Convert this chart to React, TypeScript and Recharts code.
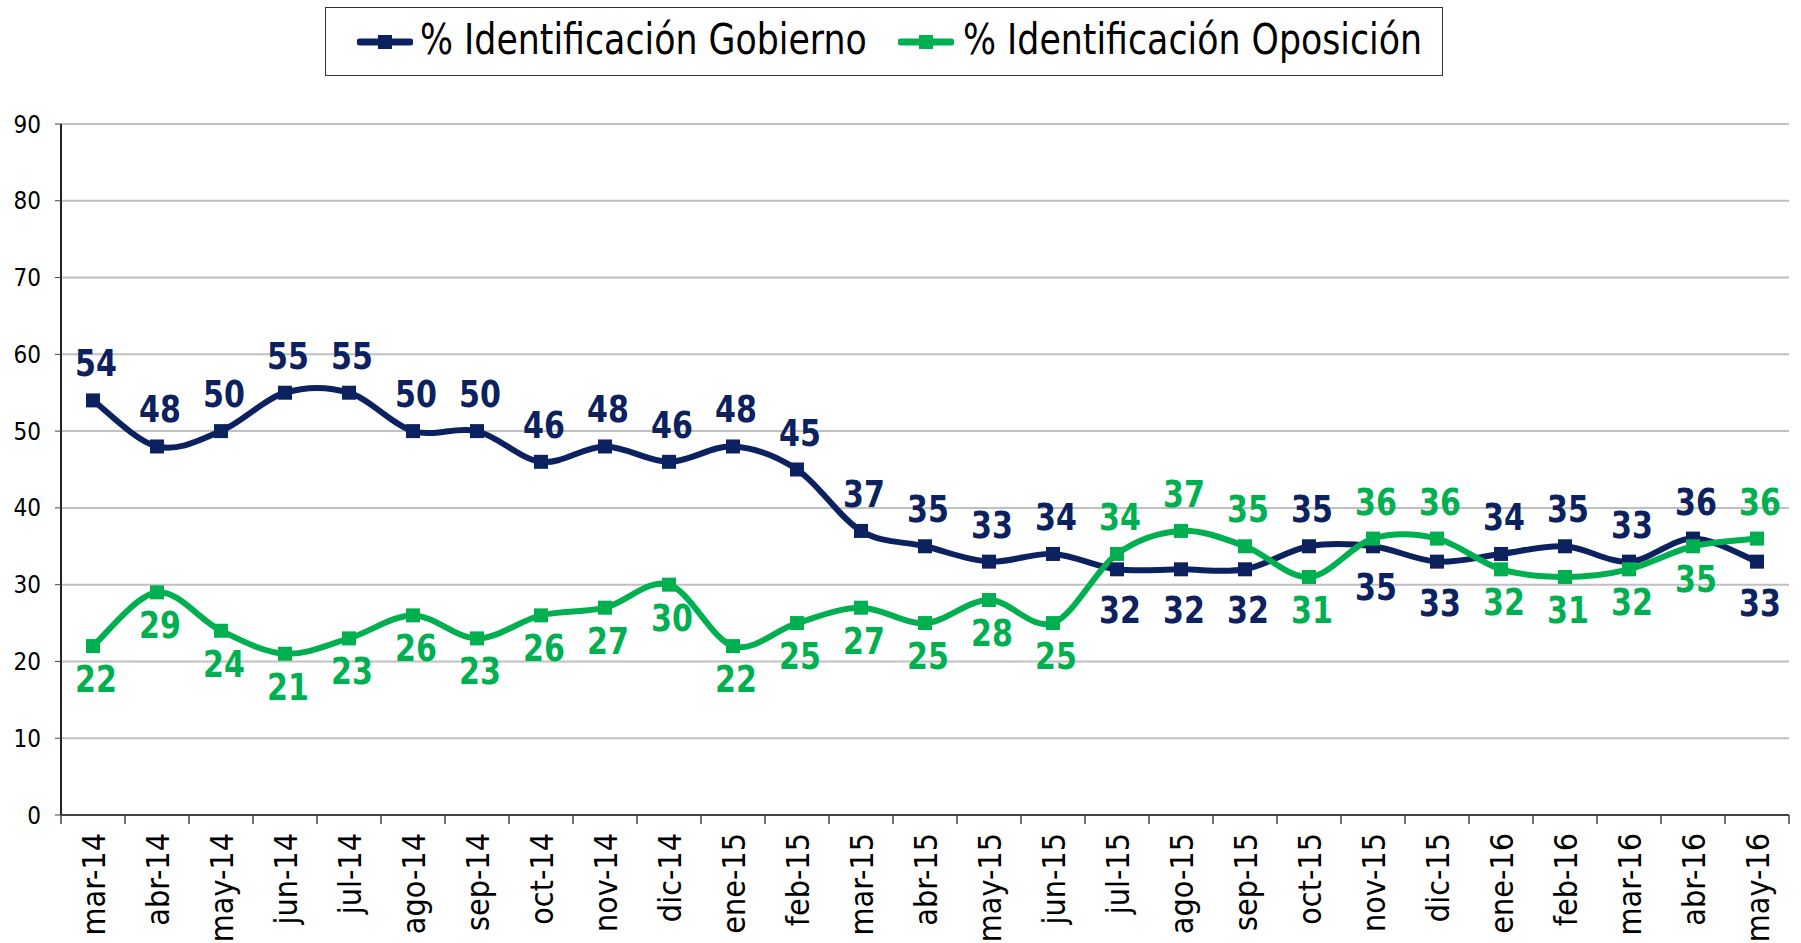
import { LineChart, Line, XAxis, YAxis, CartesianGrid, LabelList } from "recharts";

const months = [
  "mar-14", "abr-14", "may-14", "jun-14", "jul-14", "ago-14", "sep-14", "oct-14", "nov-14",
  "dic-14", "ene-15", "feb-15", "mar-15", "abr-15", "may-15", "jun-15", "jul-15", "ago-15",
  "sep-15", "oct-15", "nov-15", "dic-15", "ene-16", "feb-16", "mar-16", "abr-16", "may-16",
];
const gobierno = [54, 48, 50, 55, 55, 50, 50, 46, 48, 46, 48, 45, 37, 35, 33, 34, 32, 32, 32, 35, 35, 33, 34, 35, 33, 36, 33];
const oposicion = [22, 29, 24, 21, 23, 26, 23, 26, 27, 30, 22, 25, 27, 25, 28, 25, 34, 37, 35, 31, 36, 36, 32, 31, 32, 35, 36];
const yTicks = [0, 10, 20, 30, 40, 50, 60, 70, 80, 90];

const NAVY = "#0c2160";
const GREEN = "#00b050";
const FONT = "'DejaVu Sans Condensed', 'DejaVu Sans', sans-serif";

const data = months.map((m, i) => ({ month: m, gob: gobierno[i], opo: oposicion[i] }));

// excel-style smoothed line (catmull-rom through every point)
function excelSmooth(context: any) {
  let pts: number[][] = [];
  return {
    areaStart() {},
    areaEnd() {},
    lineStart() {
      pts = [];
    },
    point(x: number, y: number) {
      pts.push([+x, +y]);
    },
    lineEnd() {
      const n = pts.length;
      if (!n) return;
      context.moveTo(pts[0][0], pts[0][1]);
      for (let i = 0; i < n - 1; i++) {
        const p0 = pts[Math.max(i - 1, 0)];
        const p1 = pts[i];
        const p2 = pts[i + 1];
        const p3 = pts[Math.min(i + 2, n - 1)];
        context.bezierCurveTo(
          p1[0] + (p2[0] - p0[0]) / 6,
          p1[1] + (p2[1] - p0[1]) / 6,
          p2[0] - (p3[0] - p1[0]) / 6,
          p2[1] - (p3[1] - p1[1]) / 6,
          p2[0],
          p2[1]
        );
      }
    },
  };
}

const Square = (color: string) => (props: any) => {
  const { cx, cy } = props;
  if (cx == null || cy == null) return null;
  return <rect x={cx - 7} y={cy - 7} width={14} height={14} fill={color} />;
};

const makeLabel = (color: string, mine: number[], other: number[], belowGap: number) => (props: any) => {
  const { x, y, value, index } = props;
  const above = mine[index] >= other[index];
  return (
    <text
      transform={`translate(${x + 3},${above ? y - 24 : y + belowGap}) scale(0.88,1)`}
      textAnchor="middle"
      fill={color}
      fontFamily={FONT}
      fontWeight="bold"
      fontSize={38}
    >
      {value}
    </text>
  );
};

const MonthTick = (props: any) => {
  const { x, y, payload, index } = props;
  const half = payload && payload.offset ? payload.offset : 32;
  return (
    <g>
      <line x1={x - half} y1={y} x2={x - half} y2={y + 9} stroke="#444" strokeWidth={1.5} />
      {index === months.length - 1 && (
        <line x1={x + half} y1={y} x2={x + half} y2={y + 9} stroke="#444" strokeWidth={1.5} />
      )}
      <text
        transform={`translate(${x},${y + 18}) rotate(-90)`}
        textAnchor="end"
        dy="0.36em"
        fill="#000"
        fontFamily={FONT}
        fontSize={32}
      >
        {payload.value}
      </text>
    </g>
  );
};

const LegendIcon = ({ color }: { color: string }) => (
  <svg width={56} height={20} style={{ display: "block" }}>
    <line x1={3} y1={10} x2={53} y2={10} stroke={color} strokeWidth={7} strokeLinecap="round" />
    <rect x={21} y={3} width={14} height={14} fill={color} />
  </svg>
);

const legendText = {
  position: "absolute" as const,
  top: 6,
  lineHeight: "52px",
  whiteSpace: "nowrap" as const,
  transform: "scaleX(0.92)",
  transformOrigin: "left center",
};

export default function App() {
  return (
    <div style={{ position: "absolute", left: 8, top: 8, width: 1783, height: 935 }}>
      <div
        style={{
          position: "absolute",
          left: 317,
          top: -1,
          width: 1118,
          height: 69,
          border: "1px solid #333",
          boxSizing: "border-box",
          background: "#fff",
          fontFamily: FONT,
          fontSize: 42,
          color: "#000",
          zIndex: 2,
        }}
      >
        <div style={{ position: "absolute", left: 31, top: 24 }}>
          <LegendIcon color={NAVY} />
        </div>
        <div style={{ ...legendText, left: 94 }}>% Identificación Gobierno</div>
        <div style={{ position: "absolute", left: 572, top: 24 }}>
          <LegendIcon color={GREEN} />
        </div>
        <div style={{ ...legendText, left: 637 }}>% Identificación Oposición</div>
      </div>
      <LineChart width={1783} height={935} data={data} margin={{ top: 116, right: 2, bottom: 0, left: 8 }}>
        <CartesianGrid horizontal vertical={false} stroke="#c0c0c0" strokeWidth={2} />
        <XAxis
          dataKey="month"
          scale="band"
          interval={0}
          height={128}
          tickSize={0}
          tickMargin={0}
          tickLine={false}
          axisLine={{ stroke: "#444", strokeWidth: 2 }}
          tick={<MonthTick />}
        />
        <YAxis
          domain={[0, 90]}
          ticks={yTicks}
          interval={0}
          width={45}
          tickSize={6}
          tickMargin={14}
          axisLine={{ stroke: "#222", strokeWidth: 2 }}
          tickLine={{ stroke: "#444" }}
          tick={{ fill: "#000", fontFamily: FONT, fontSize: 24 }}
        />
        <YAxis
          yAxisId="edge"
          orientation="right"
          domain={[0, 90]}
          width={0}
          tick={false}
          tickLine={false}
          axisLine={{ stroke: "#c0c0c0", strokeWidth: 2 }}
        />
        <Line
          dataKey="gob"
          type={excelSmooth as any}
          stroke={NAVY}
          strokeWidth={6}
          dot={Square(NAVY)}
          activeDot={false}
          isAnimationActive={false}
        >
          <LabelList dataKey="gob" content={makeLabel(NAVY, gobierno, oposicion, 54)} />
        </Line>
        <Line
          dataKey="opo"
          type={excelSmooth as any}
          stroke={GREEN}
          strokeWidth={6}
          dot={Square(GREEN)}
          activeDot={false}
          isAnimationActive={false}
        >
          <LabelList dataKey="opo" content={makeLabel(GREEN, oposicion, gobierno, 46)} />
        </Line>
      </LineChart>
    </div>
  );
}
